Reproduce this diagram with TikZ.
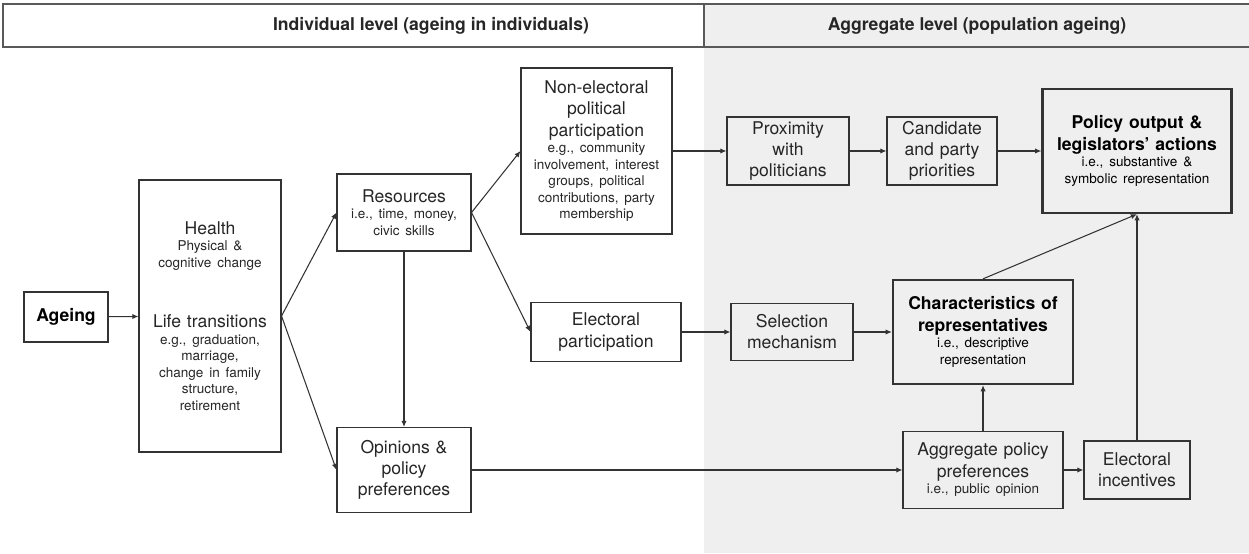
\documentclass[tikz,border=0pt]{standalone}
\usepackage{fontspec}
\setmainfont{TeX Gyre Heros}
\usetikzlibrary{arrows.meta}
\newcommand{\bigtxt}{\fontsize{10}{12.3}\selectfont}
\newcommand{\subtxt}{\fontsize{7.7}{9.4}\selectfont}
\definecolor{aggback}{HTML}{EFEFEF}

\begin{document}
\begin{tikzpicture}[
    box/.style 2 args={shape=rectangle,draw=black!80,line width=0.6pt,text=black!85,
        inner sep=0pt,align=center,text width=#1,minimum width=#1,minimum height=#2},
    keybox/.style 2 args={box={#1}{#2},line width=1.3pt,text=black},
    head/.style={font=\bfseries\bigtxt,text=black!85},
    every edge/.style={draw=black!80,line width=0.6pt},
    >={Latex[length=3.5pt,width=3pt]}]
    \useasboundingbox (0,0) rectangle (24.98,11.06);
    \fill[aggback] (14.08,0) rectangle (24.98,10.98);
    \draw[black!65,line width=0.9pt] (25.1,10.98) -- (0.06,10.98) -- (0.06,10.12) -- (25.1,10.12);
    \draw[black!65,line width=0.6pt] (14.08,10.98) -- (14.08,10.12);
    \node[head] (indhead) at (8.62,10.55) {Individual level (ageing in individuals)};
    \node[head] (agghead) at (19.54,10.55) {Aggregate level (population ageing)};

    \node[keybox={1.68cm}{1.0cm}] (ageing) at (1.32,4.72) {\bigtxt\bfseries Ageing};
    \node[box={2.84cm}{5.44cm}] (health) at (4.20,4.74) {{\bigtxt Health\par}{\subtxt Physical \&\\ cognitive change\par}\vspace{22pt}{\bigtxt Life transitions\par}{\subtxt e.g., graduation,\\ marriage,\\ change in family\\ structure,\\ retirement\par}};
    \node[box={2.68cm}{1.54cm}] (res) at (8.08,6.81) {{\bigtxt Resources\par}{\subtxt i.e., time, money,\\ civic skills\par}};
    \node[box={2.68cm}{1.70cm}] (opin) at (8.08,1.66) {\bigtxt Opinions \&\\ policy\\ preferences};
    \node[box={3.02cm}{3.32cm}] (nonel) at (11.93,8.04) {{\bigtxt Non-electoral\\ political\\ participation\par}{\subtxt e.g., community\\ involvement, interest\\ groups, political\\ contributions, party\\ membership\par}};
    \node[box={3.00cm}{1.18cm}] (elect) at (12.12,4.42) {\bigtxt Electoral\\ participation};
    \node[box={2.44cm}{1.36cm}] (prox) at (15.76,8.04) {\bigtxt Proximity\\ with\\ politicians};
    \node[box={2.20cm}{1.36cm}] (cand) at (18.84,8.04) {\bigtxt Candidate\\ and party\\ priorities};
    \node[keybox={3.78cm}{2.48cm}] (policy) at (22.74,8.04) {{\bigtxt\bfseries Policy output \&\\ legislators' actions\par}{\subtxt i.e., substantive \&\\ symbolic representation\par}};
    \node[box={2.44cm}{1.14cm}] (select) at (15.84,4.42) {\bigtxt Selection\\ mechanism};
    \node[keybox={3.60cm}{2.08cm}] (charac) at (19.66,4.42) {{\bigtxt\bfseries Characteristics of\\ representatives\par}{\subtxt i.e., descriptive\\ representation\par}};
    \node[box={3.20cm}{1.54cm}] (aggpref) at (19.66,1.66) {{\bigtxt Aggregate policy\\ preferences\par}{\subtxt i.e., public opinion\par}};
    \node[box={2.12cm}{1.16cm}] (incent) at (22.74,1.66) {\bigtxt Electoral\\ incentives};

    \path [->] (ageing) edge (health);
    \path [->] (health.east) edge (res.west);
    \path [->] (health.east) edge (opin.west);
    \path [->] (res.east) edge (nonel.west);
    \path [->] (res.east) edge (elect.west);
    \path [->] (res) edge (opin);
    \path [->] (nonel) edge (prox);
    \path [->] (prox) edge (cand);
    \path [->] (cand) edge (policy);
    \path [->] (elect) edge (select);
    \path [->] (select) edge (charac);
    \path [->] (opin) edge (aggpref);
    \path [->] (aggpref) edge (charac);
    \path [->] (aggpref) edge (incent);
    \path [->] (incent) edge (policy.south);
    \path [->] (charac.north) edge (policy.south);
\end{tikzpicture}
\end{document}
